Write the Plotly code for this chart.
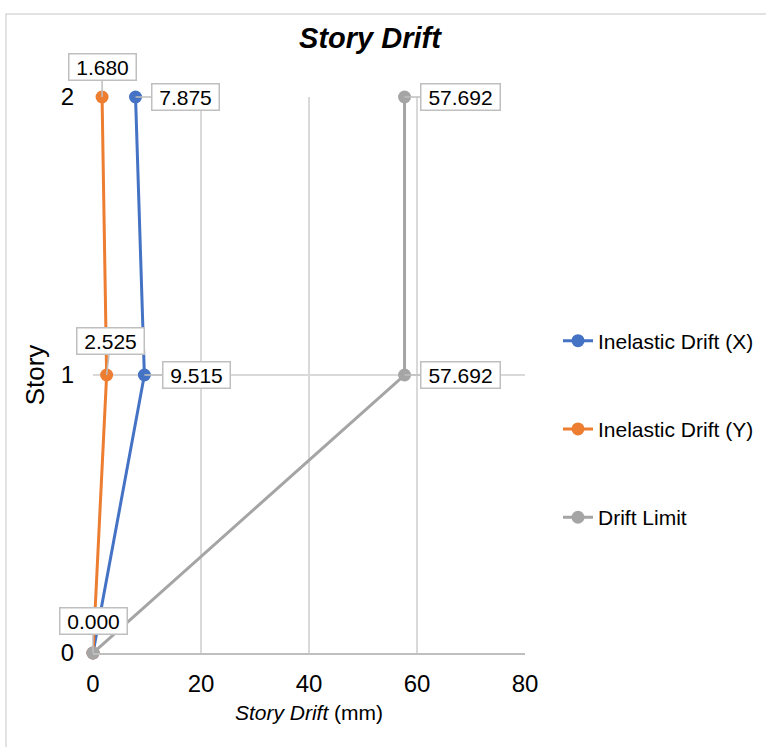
import plotly.graph_objects as go

stories = [0, 1, 2]
drift_x = [0.000, 9.515, 7.875]
drift_y = [0.000, 2.525, 1.680]
drift_limit = [0.000, 57.692, 57.692]
series_names = ["Inelastic Drift (X)", "Inelastic Drift (Y)", "Drift Limit"]
colors = ["#4472C4", "#ED7D31", "#A5A5A5"]
x_ticks = [0, 20, 40, 60, 80]
y_ticks = [0, 1, 2]

FONT = "Liberation Sans, Arial, sans-serif"

fig = go.Figure()
for i, (name, vals) in enumerate(zip(series_names, [drift_x, drift_y, drift_limit])):
    fig.add_trace(go.Scatter(
        x=vals, y=stories, name=name, mode="lines+markers",
        line=dict(color=colors[i], width=3),
        marker=dict(color=colors[i], size=13),
        cliponaxis=False, legendgroup=name,
    ))

# data labels (value, story, ax, ay)
labels = [
    (drift_y[2], stories[2], 0, -30),
    (drift_x[2], stories[2], 50, 0),
    (drift_limit[2], stories[2], 56, 0),
    (drift_y[1], stories[1], 4, -34),
    (drift_x[1], stories[1], 52, 0),
    (drift_limit[1], stories[1], 56, 0),
    (drift_limit[0], stories[0], 0, -32),
]
for val, s, ax, ay in labels:
    txt = f"{val:.3f}"
    fig.add_annotation(
        x=val, y=s, text=txt, showarrow=True, arrowhead=0,
        arrowcolor="#bfbfbf", arrowwidth=1.5, ax=ax, ay=ay,
        width=62 if len(txt) == 5 else 74, height=21,
        bordercolor="#bfbfbf", borderwidth=1.5, borderpad=2,
        bgcolor="white", font=dict(family=FONT, size=21, color="#000"),
    )

# outer chart border
fig.add_shape(type="rect", xref="paper", yref="paper",
              x0=(6 - 93) / 432, x1=1.8, y0=-0.3, y1=(653 - 14) / 556,
              line=dict(color="#d9d9d9", width=1.5), fillcolor="rgba(0,0,0,0)", layer="below")

fig.update_layout(
    width=766, height=747,
    margin=dict(l=93, r=241, t=97, b=94, autoexpand=False),
    paper_bgcolor="white", plot_bgcolor="white",
    font=dict(family=FONT, color="#000"),
    title=dict(text="<b><i>Story Drift</i></b>", x=(370 - 93) / 432, xref="paper",
               xanchor="center", y=1 - 38 / 747, yanchor="middle",
               font=dict(size=29, color="#000")),
    xaxis=dict(range=[0, 80], tickvals=x_ticks, showgrid=True, gridcolor="#d9d9d9", gridwidth=1.5,
               zeroline=False, showline=True, linecolor="#bfbfbf", linewidth=1.5,
               tickfont=dict(size=24), ticks="", ticklabelstandoff=8,
               title=dict(text="<i>Story Drift</i> (mm)", font=dict(size=21), standoff=10)),
    yaxis=dict(range=[0, 2], tickvals=y_ticks, showgrid=True, gridcolor="#d9d9d9", gridwidth=1.5,
               zeroline=False, showline=False,
               tickfont=dict(size=24), ticks="", ticklabelstandoff=18,
               title=dict(text="Story", font=dict(size=26), standoff=8)),
    legend=dict(x=(558 - 93) / 432, xanchor="left", y=(653 - 429) / 556, yanchor="middle",
                font=dict(size=21), tracegroupgap=58, bgcolor="rgba(0,0,0,0)"),
)

fig.write_html("out.html")
